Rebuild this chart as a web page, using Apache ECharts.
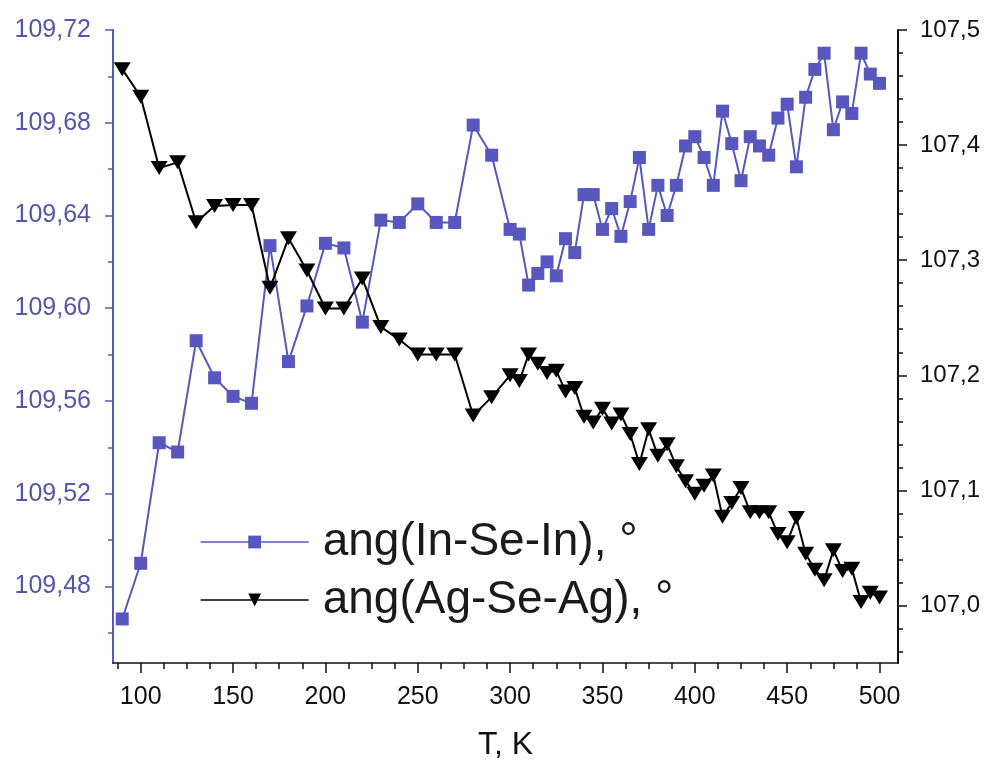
<!DOCTYPE html>
<html>
<head>
<meta charset="utf-8">
<script src="https://cdn.jsdelivr.net/npm/echarts@6/dist/echarts.min.js"></script>
<style>
html,body{margin:0;padding:0;background:#fff;}
#chart{width:992px;height:765px;}
</style>
</head>
<body>
<div id="chart"></div>
<script>
var temps = [90,100,110,120,130,140,150,160,170,180,190,200,210,220,230,240,250,260,270,280,290,300,
  305,310,315,320,325,330,335,340,345,350,355,360,365,370,375,380,385,390,395,400,
  405,410,415,420,425,430,435,440,445,450,455,460,465,470,475,480,485,490,495,500];

var angInSeIn = [109.466,109.490,109.542,109.538,109.586,109.570,109.562,109.559,109.627,109.577,109.601,109.628,109.626,109.594,109.638,109.637,109.645,109.637,109.637,109.679,109.666,109.634,
  109.632,109.610,109.615,109.620,109.614,109.630,109.624,109.649,109.649,109.634,109.643,109.631,109.646,109.665,109.634,109.653,109.640,109.653,109.670,109.674,
  109.665,109.653,109.685,109.671,109.655,109.674,109.670,109.666,109.682,109.688,109.661,109.691,109.703,109.710,109.677,109.689,109.684,109.710,109.701,109.697];

var angAgSeAg = [107.466,107.442,107.380,107.385,107.333,107.347,107.348,107.348,107.276,107.319,107.291,107.258,107.258,107.284,107.242,107.231,107.218,107.218,107.218,107.165,107.181,107.200,
  107.195,107.218,107.210,107.202,107.204,107.186,107.189,107.164,107.159,107.171,107.158,107.166,107.149,107.123,107.153,107.130,107.140,107.121,107.108,107.097,
  107.104,107.113,107.077,107.089,107.102,107.081,107.081,107.081,107.062,107.055,107.076,107.045,107.031,107.022,107.048,107.030,107.032,107.003,107.011,107.007];

var xTicks = [100,150,200,250,300,350,400,450,500];
var xMinorTicks = [87.5,112.5,125,137.5,162.5,175,187.5,212.5,225,237.5,262.5,275,287.5,312.5,325,337.5,362.5,375,387.5,412.5,425,437.5,462.5,475,487.5];
var leftTicks = [109.48,109.52,109.56,109.60,109.64,109.68,109.72];
var leftMinorTicks = [109.46,109.50,109.54,109.58,109.62,109.66,109.70];
var rightTicks = [107.0,107.1,107.2,107.3,107.4,107.5];
var rightMinorTicks = [106.96,106.98,107.02,107.04,107.06,107.08,107.12,107.14,107.16,107.18,107.22,107.24,107.26,107.28,107.32,107.34,107.36,107.38,107.42,107.44,107.46,107.48];

var BLUE = '#5757bd';
var FONT = '"Liberation Sans", Arial, sans-serif';

var chart = echarts.init(document.getElementById('chart'), null, {renderer: 'canvas'});
chart.setOption({
  animation: false,
  backgroundColor: '#fff',
  textStyle: {fontFamily: FONT},
  grid: {left: 113, right: 94, top: 30, bottom: 102, containLabel: false, outerBoundsMode: 'none'},
  legend: {
    orient: 'vertical',
    left: 200, top: 516, padding: 0,
    itemWidth: 108, itemHeight: 16, itemGap: 6,
    lineStyle: {width: 1.3},
    textStyle: {fontSize: 46, lineHeight: 52, color: '#1a1a1a', fontFamily: FONT, padding: [0,0,0,9]},
    data: ['ang(In-Se-In), °', 'ang(Ag-Se-Ag), °']
  },
  xAxis: [
    {
      type: 'value', min: 85, max: 510, position: 'bottom',
      axisLine: {show: true, lineStyle: {color: '#111', width: 1.5}},
      axisTick: {show: true, inside: false, length: 10, customValues: xTicks, lineStyle: {color: '#111', width: 1.5}},
      axisLabel: {show: true, customValues: xTicks, fontSize: 25, color: '#111', margin: 22, fontFamily: FONT},
      splitLine: {show: false},
      name: 'T, K', nameLocation: 'middle', nameGap: 66,
      nameTextStyle: {fontSize: 32, color: '#111', fontFamily: FONT}
    },
    {
      type: 'value', min: 85, max: 510, position: 'bottom',
      axisLine: {show: false},
      axisTick: {show: true, inside: false, length: 6, customValues: xMinorTicks, lineStyle: {color: '#111', width: 1.5}},
      axisLabel: {show: false},
      splitLine: {show: false}
    }
  ],
  yAxis: [
    {
      type: 'value', min: 109.447, max: 109.72, position: 'left',
      axisLine: {show: true, lineStyle: {color: BLUE, width: 2}},
      axisTick: {show: true, inside: false, length: 8, customValues: leftTicks, lineStyle: {color: BLUE, width: 1.5}},
      axisLabel: {show: true, customValues: leftTicks, fontSize: 25, color: '#5555ab', margin: 22, fontFamily: FONT,
        formatter: function (v) { return v.toFixed(2).replace('.', ','); }},
      splitLine: {show: false}
    },
    {
      type: 'value', min: 109.447, max: 109.72, position: 'left',
      axisLine: {show: false},
      axisTick: {show: true, inside: false, length: 5, customValues: leftMinorTicks, lineStyle: {color: BLUE, width: 1.5}},
      axisLabel: {show: false},
      splitLine: {show: false}
    },
    {
      type: 'value', min: 106.95, max: 107.5, position: 'right',
      axisLine: {show: true, lineStyle: {color: '#111', width: 2}},
      axisTick: {show: true, inside: false, length: 9, customValues: rightTicks, lineStyle: {color: '#111', width: 1.5}},
      axisLabel: {show: true, customValues: rightTicks, fontSize: 24, color: '#111', margin: 22, fontFamily: FONT,
        formatter: function (v) { return v.toFixed(1).replace('.', ','); }},
      splitLine: {show: false}
    },
    {
      type: 'value', min: 106.95, max: 107.5, position: 'right',
      axisLine: {show: false},
      axisTick: {show: true, inside: false, length: 5, customValues: rightMinorTicks, lineStyle: {color: '#111', width: 1.5}},
      axisLabel: {show: false},
      splitLine: {show: false}
    }
  ],
  series: [
    {
      name: 'ang(In-Se-In), °', type: 'line', xAxisIndex: 0, yAxisIndex: 0,
      data: temps.map(function (t, i) { return [t, angInSeIn[i]]; }),
      symbol: 'rect', symbolSize: 13,
      lineStyle: {color: BLUE, width: 2},
      itemStyle: {color: BLUE},
      z: 2
    },
    {
      name: 'ang(Ag-Se-Ag), °', type: 'line', xAxisIndex: 0, yAxisIndex: 2,
      data: temps.map(function (t, i) { return [t, angAgSeAg[i]]; }),
      symbol: 'triangle', symbolRotate: 180, symbolSize: [17, 14],
      lineStyle: {color: '#000', width: 2},
      itemStyle: {color: '#000'},
      z: 3
    }
  ]
});
</script>
</body>
</html>
